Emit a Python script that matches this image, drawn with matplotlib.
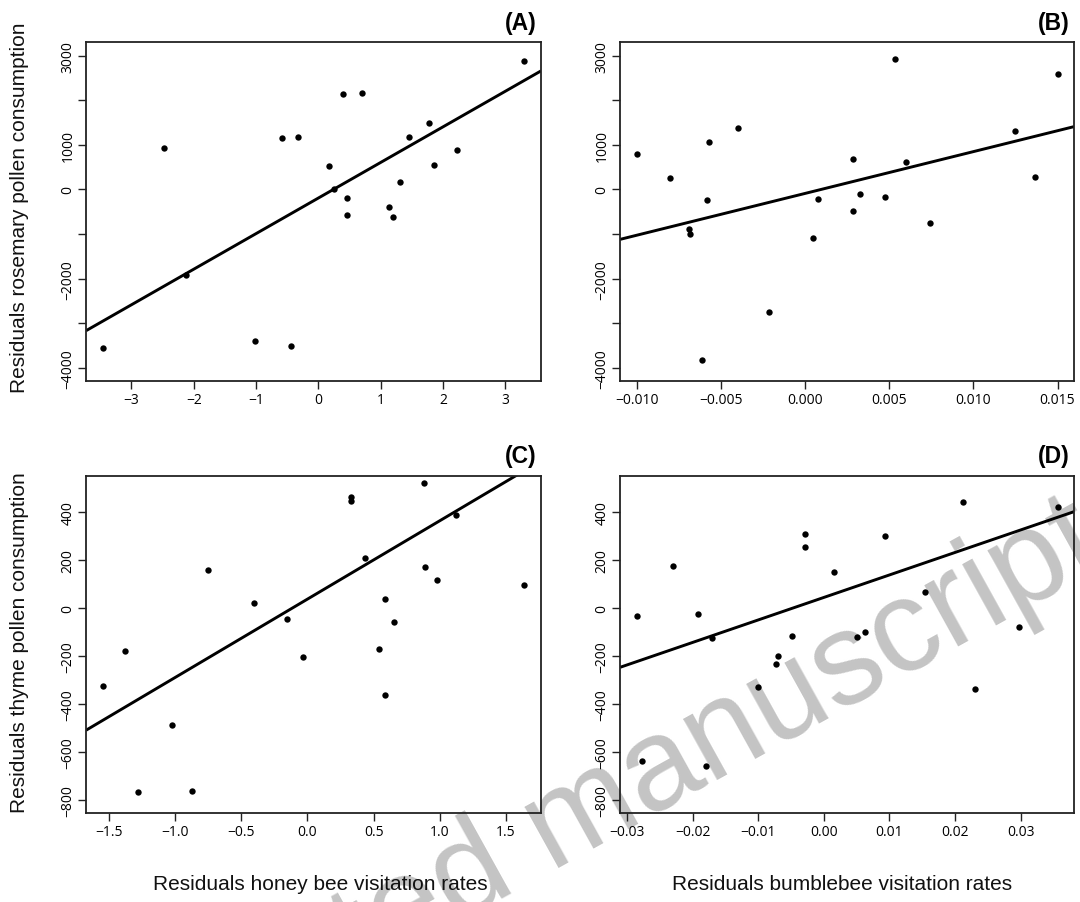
import numpy as np
import matplotlib.pyplot as plt

# panel A: honey bee visits vs rosemary pollen
hb_rose_x = [-3.46, -2.48, -2.13, -1.02, -0.44, -0.59, -0.33, 0.17, 0.25, 0.39, 0.70,
             0.46, 0.46, 1.13, 1.19, 1.31, 1.46, 1.77, 1.85, 2.22, 3.29]
hb_rose_y = [-3565, 925, -1917, -3408, -3505, 1163, 1186, 522, 22, 2140, 2170,
             -186, -574, -403, -626, 179, 1178, 1491, 552, 887, 2871]

# panel B: bumblebee visits vs rosemary pollen
bb_rose_x = [-0.0100, -0.00805, -0.00693, -0.00686, -0.00584, -0.00570, -0.00615, -0.00400,
             -0.00217, 0.00045, 0.00076, 0.00283, 0.00283, 0.00326, 0.00473, 0.00535,
             0.00598, 0.00744, 0.0125, 0.01367, 0.01504]
bb_rose_y = [805, 254, -895, -1007, -246, 1059, -3833, 1372, -2744, -1096, -224, 686,
             -477, -112, -172, 2923, 611, -746, 1305, 283, 2588]

# panel C: honey bee visits vs thyme pollen
hb_thyme_x = [-1.546, -1.382, -1.285, -1.023, -0.872, -0.752, -0.403, -0.154, -0.031, 0.328,
              0.333, 0.435, 0.544, 0.585, 0.585, 0.651, 0.882, 0.887, 0.978, 1.122, 1.637]
hb_thyme_y = [-324, -179, -764, -487, -763, 161, 21, -46, -202, 462, 448, 209, -169, 40,
              -363, -58, 522, 173, 119, 388, 97]

# panel D: bumblebee visits vs thyme pollen
bb_thyme_x = [-0.02858, -0.02779, -0.02307, -0.01918, -0.01797, -0.01708, -0.00998, -0.00736,
              -0.00704, -0.00483, -0.00294, -0.00294, 0.00152, 0.00510, 0.00620, 0.00925,
              0.01539, 0.02123, 0.02307, 0.02969, 0.03568]
bb_thyme_y = [-32, -638, 174, -26, -657, -126, -329, -231, -201, -116, 311, 253, 149, -120,
              -100, 300, 68, 444, -335, -78, 421]

# fitted lines (intercept, slope)
fit_a = (-190, 798)
fit_b = (-87, 93630)
fit_c = (38, 326)
fit_d = (45, 9365)

panel_labels = ["(A)", "(B)", "(C)", "(D)"]
rose_yticks = [-4000, -3000, -2000, -1000, 0, 1000, 2000, 3000]
rose_ylabels = ["\u22124000", "", "\u22122000", "", "0", "1000", "", "3000"]
thyme_yticks = [-800, -600, -400, -200, 0, 200, 400]
hb_rose_xticks = [-3, -2, -1, 0, 1, 2, 3]
bb_rose_xticks = [-0.010, -0.005, 0.000, 0.005, 0.010, 0.015]
hb_thyme_xticks = [-1.5, -1.0, -0.5, 0.0, 0.5, 1.0, 1.5]
bb_thyme_xticks = [-0.03, -0.02, -0.01, 0.00, 0.01, 0.02, 0.03]

W, H = 1080, 903
fig = plt.figure(figsize=(W / 100, H / 100), dpi=100)

def box(l, r, t, b):
    return [l / W, 1 - b / H, (r - l) / W, (b - t) / H]

tick_font = dict(family="Open Sans", size=10)

def panel(rect, x, y, fit, xlim, ylim, xticks, xfmt, yticks, ylabels, label):
    ax = fig.add_axes(rect)
    ax.patch.set_alpha(0)
    ax.scatter(x, y, s=21, color="black", zorder=3, linewidths=0)
    xs = np.array(xlim)
    ax.plot(xs, fit[0] + fit[1] * xs, color="black", lw=2.1, solid_capstyle="butt")
    ax.set_xlim(xlim)
    ax.set_ylim(ylim)
    ax.set_xticks(xticks)
    ax.set_xticklabels([xfmt.format(v).replace("-", "\u2212") for v in xticks], **tick_font)
    ax.set_yticks(yticks)
    if ylabels is None:
        ylabels = [str(v).replace("-", "\u2212") for v in yticks]
    ax.set_yticklabels(ylabels, rotation=90, va="center", **tick_font)
    ax.tick_params(length=6, width=1, pad=2, color="#222222")
    ax.tick_params(axis="y", pad=1.5)
    for s in ax.spines.values():
        s.set_linewidth(1.3)
        s.set_color("#222222")
    # panel letter sits ~20 px above the box, right edge 4 px inside
    ax.text(1 - 4 / (rect[2] * W), 1 + 20 / (rect[3] * H), label, transform=ax.transAxes,
            ha="right", va="center", fontsize=16.5, fontweight="bold", family="Liberation Sans")
    return ax

panel(box(86, 541, 43.3, 381.7), hb_rose_x, hb_rose_y, fit_a, (-3.73, 3.57), (-4287, 3300),
      hb_rose_xticks, "{:d}", rose_yticks, rose_ylabels, panel_labels[0])
panel(box(620, 1074, 43.3, 381.7), bb_rose_x, bb_rose_y, fit_b, (-0.01102, 0.01598), (-4287, 3300),
      bb_rose_xticks, "{:.3f}", rose_yticks, rose_ylabels, panel_labels[1])
panel(box(86, 541, 476.7, 814), hb_thyme_x, hb_thyme_y, fit_c, (-1.676, 1.767), (-853, 552),
      hb_thyme_xticks, "{:.1f}", thyme_yticks, None, panel_labels[2])
panel(box(620, 1074, 476.7, 814), bb_thyme_x, bb_thyme_y, fit_d, (-0.0311, 0.03814), (-853, 552),
      bb_thyme_xticks, "{:.2f}", thyme_yticks, None, panel_labels[3])

lab = dict(fontsize=15, family="Liberation Sans", color="#111111")
fig.text(20 / W, 1 - 208 / H, "Residuals rosemary pollen consumption", rotation=90,
         ha="center", va="center", **lab)
fig.text(20 / W, 1 - 643 / H, "Residuals thyme pollen consumption", rotation=90,
         ha="center", va="center", **lab)
fig.text(320 / W, 1 - 885 / H, "Residuals honey bee visitation rates", ha="center", va="center", **lab)
fig.text(842 / W, 1 - 885 / H, "Residuals bumblebee visitation rates", ha="center", va="center", **lab)

# watermark, mostly off the bottom of the page
fig.text(560 / W, 1 - 828 / H, "Accepted manuscript", rotation=29, ha="center", va="center",
         fontsize=94, family="Liberation Sans", color="#c4c4c4", zorder=-1)

fig.savefig("out.png", dpi=100, facecolor="white")
